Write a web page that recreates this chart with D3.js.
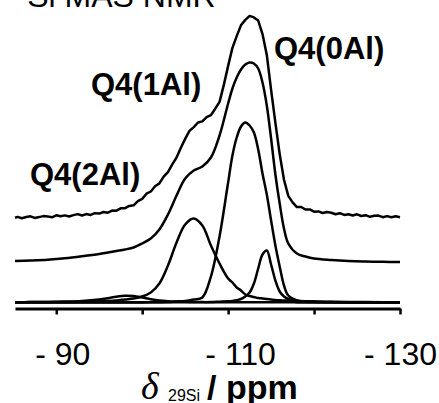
<!DOCTYPE html>
<html lang="en">
<head>
<meta charset="UTF-8">
<title>29Si MAS NMR</title>
<script src="https://d3js.org/d3.v7.min.js"></script>
<style>
  html, body { margin: 0; padding: 0; background: #fff; }
  svg { display: block; }
  .sans { font-family: Arial, "Liberation Sans", Helvetica, sans-serif; }
</style>
</head>
<body>
<div id="chart"></div>
<script>
// chemical shift grid (ppm) for fit + components
const ppm = [-85.2, -87, -89, -91, -93, -95, -96, -97, -98, -99, -100, -101, -102, -103,
  -104, -105, -106, -107, -108, -109, -110,
  -110.5, -111, -111.5, -112, -112.5, -113, -113.5, -114, -114.5, -115, -115.5, -116, -116.5, -117,
  -118, -119, -120, -122, -124, -126, -128, -130];

// simulated sum (fit)
const fitCurve = [0.25, 0.5, 0.9, 1.6, 2.6, 3.75, 4.5, 5.25, 6, 7, 9, 11.5, 16, 23.5,
  33, 41.5, 45.5, 47.5, 52, 63, 79,
  86.5, 92, 96, 98.5, 99.5, 99, 96.5, 89.5, 78, 61.5, 43.5, 29, 16.5, 9,
  4, 2.5, 1.5, 0.75, 0.25, 0, -0.15, -0.25];

// Q4(0Al)
const comp0Al = [0, 0, 0, 0, 0, 0, 0, 0, 0, 0, 0.05, 0.1, 0.15, 0.25,
  0.5, 0.75, 1.5, 2.5, 13, 33, 60,
  73.5, 82.5, 88, 90, 88.5, 85, 76.5, 64.5, 54, 41, 28.5, 18, 8.5, 3.5,
  1, 0.4, 0.2, 0.1, 0, 0, 0, 0];

// Q4(1Al)
const comp1Al = [0.15, 0.2, 0.25, 0.3, 0.4, 0.6, 0.75, 1, 1.5, 2, 3, 5, 9.5, 18.5,
  30, 39, 42, 38.5, 28.5, 19.5, 12,
  10, 7.5, 6, 4, 3.25, 2.75, 2.25, 2, 1.75, 1.5, 1.25, 1.1, 1, 0.9,
  0.75, 0.6, 0.5, 0.35, 0.25, 0.2, 0.15, 0.15];

// narrow high-field component
const compNarrow = [0.1, 0.1, 0.1, 0.1, 0.1, 0.1, 0.1, 0.1, 0.1, 0.1, 0.1, 0.1, 0.1, 0.1,
  0.1, 0.1, 0.1, 0.15, 0.2, 0.4, 0.6,
  0.8, 1.15, 1.75, 3, 5, 9.5, 17, 24, 26, 19, 11, 5.5, 3, 1.75,
  0.9, 0.5, 0.35, 0.2, 0.15, 0.1, 0.1, 0.1];

// Q4(2Al)
const comp2Al = [0.15, 0.2, 0.3, 0.45, 0.75, 1.5, 2.15, 2.9, 3.4, 3.25, 2.5, 1.65, 1, 0.65,
  0.45, 0.35, 0.25, 0.2, 0.15, 0.1, 0.1,
  0.1, 0.1, 0.1, 0.1, 0.1, 0.1, 0.1, 0.1, 0.1, 0.1, 0.1, 0.1, 0.1, 0.1,
  0.05, 0.05, 0.05, 0.05, 0.05, 0.05, 0.05, 0.05];

// experimental spectrum
const expPpm = [-85.2, -85.5, -86, -86.5, -87, -87.5, -88, -88.5, -89, -89.5,
  -90, -90.5, -91, -91.5, -92, -92.5, -93, -93.5, -94, -94.5,
  -95, -95.5, -96, -96.5, -97, -97.5, -98, -98.5, -99, -99.5,
  -100, -100.5, -101, -101.5, -102, -102.5, -103, -103.5, -104, -104.5,
  -105, -105.5, -106, -106.5, -107, -107.5, -108, -108.5, -109, -109.5,
  -110, -110.5, -111, -111.5, -112, -112.5, -113, -113.5, -114, -114.5,
  -115, -115.5, -116, -116.5, -117, -117.5, -118, -118.5, -119, -119.5,
  -120, -120.5, -121, -121.5, -122, -122.5, -123, -123.5, -124, -124.5,
  -125, -125.5, -126, -126.5, -127, -127.5, -128, -128.5, -129, -129.5, -130];
const expCurve = [-0.15, 0.3, -0.35, 0.25, 0.6, -0.2, 0.2, 0.7, 0.55, 0.1,
  1.1, 0.6, 1.05, 0.5, 1.2, 1.7, 1.0, 1.7, 1.3, 2.15,
  1.95, 2.75, 2.4, 3.45, 3.4, 4.6, 4.65, 5.8, 6.1, 8.15,
  9.3, 11.9, 13.0, 15.65, 17.05, 20.4, 22.7, 26.55, 30, 34.9,
  39.3, 43.3, 45.2, 47.5, 48.05, 50.15, 51.2, 54.4, 57.8, 66.3,
  75.8, 84.8, 90.7, 96.2, 98.8, 100.8, 100.05, 98.45, 91.7, 81.3,
  63.8, 47.3, 31.7, 18.9, 10.8, 7.55, 5.2, 5.25, 4.0, 4.05,
  2.9, 3.05, 2.25, 2.75, 2.35, 1.6, 2.15, 1.3, 1.65, 1.0,
  1.6, 0.75, 1.15, 0.35, 0.85, 0.95, 0.15, 0.7, 0.15, 0.6, 0.15];

const peakLabels = ["Q4(0Al)", "Q4(1Al)", "Q4(2Al)"];
const tickValues = [-90, -100, -110, -120, -130];
const labelledTicks = [-90, -110, -130];

const width = 439, height = 403;
const svg = d3.select("#chart").append("svg")
  .attr("width", width)
  .attr("height", height);

const x = d3.scaleLinear().domain([-85.2, -130]).range([15, 400]);
const y = d3.scaleLinear().domain([0, 144]).range([302.5, 14.5]);

// vertical stacking (intensity units)
const offsetFit = 20.5, offsetExp = 42.5;

function drawCurve(xs, ys, offset, curve) {
  const line = d3.line()
    .x((d, i) => x(xs[i]))
    .y(d => y(d + offset))
    .curve(curve);
  svg.append("path")
    .datum(ys)
    .attr("d", line)
    .attr("fill", "none")
    .attr("stroke", "#000")
    .attr("stroke-width", 2.5)
    .attr("stroke-linejoin", "round");
}

const smooth = d3.curveCatmullRom.alpha(0.5);
[comp2Al, comp1Al, comp0Al, compNarrow].forEach(c => drawCurve(ppm, c, 0, smooth));
drawCurve(ppm, fitCurve, offsetFit, smooth);
drawCurve(expPpm, expCurve, offsetExp, d3.curveLinear);

// x axis
const axis = d3.axisBottom(x)
  .tickValues(tickValues)
  .tickSize(6)
  .tickSizeOuter(0)
  .tickFormat(d => labelledTicks.includes(d) ? "- " + Math.abs(d) : "");

const gAxis = svg.append("g")
  .attr("transform", "translate(0,308.5)")
  .call(axis);
gAxis.select(".domain").attr("stroke", "#000").attr("stroke-width", 3);
gAxis.selectAll(".tick line").attr("stroke", "#000").attr("stroke-width", 2.5);
const nudge = { "-90": 6, "-110": 12, "-130": 0 };
gAxis.selectAll(".tick text")
  .attr("class", "sans")
  .attr("font-size", 32)
  .attr("fill", "#000")
  .attr("y", 56)
  .attr("dy", null)
  .attr("dx", d => nudge[d] || 0);

// axis title
const title = svg.append("text").attr("y", 399).attr("fill", "#000");
title.append("tspan")
  .attr("x", 141)
  .attr("font-family", "'Times New Roman', 'Liberation Serif', serif")
  .attr("font-style", "italic")
  .attr("font-size", 38)
  .text("δ");
title.append("tspan")
  .attr("x", 168).attr("dy", 2)
  .attr("class", "sans")
  .attr("font-size", 16)
  .text("29Si");
title.append("tspan")
  .attr("x", 207).attr("dy", -2)
  .attr("class", "sans")
  .attr("font-weight", "bold")
  .attr("font-size", 34)
  .text("/ ppm");

// peak labels
const labelPos = [[274, 59], [91, 95], [30, 185]];
svg.selectAll(".peak-label")
  .data(peakLabels)
  .join("text")
  .attr("class", "sans peak-label")
  .attr("x", (d, i) => labelPos[i][0])
  .attr("y", (d, i) => labelPos[i][1])
  .attr("font-size", 31)
  .attr("font-weight", "bold")
  .attr("fill", "#000")
  .text(d => d);

// header (cropped at the top edge)
const head = svg.append("text")
  .attr("class", "sans")
  .attr("x", 5).attr("y", 7)
  .attr("font-size", 32)
  .attr("fill", "#000");
head.append("tspan").attr("font-size", 20).attr("dy", -13).text("29");
head.append("tspan").attr("dy", 13).text("Si MAS NMR");
</script>
</body>
</html>
